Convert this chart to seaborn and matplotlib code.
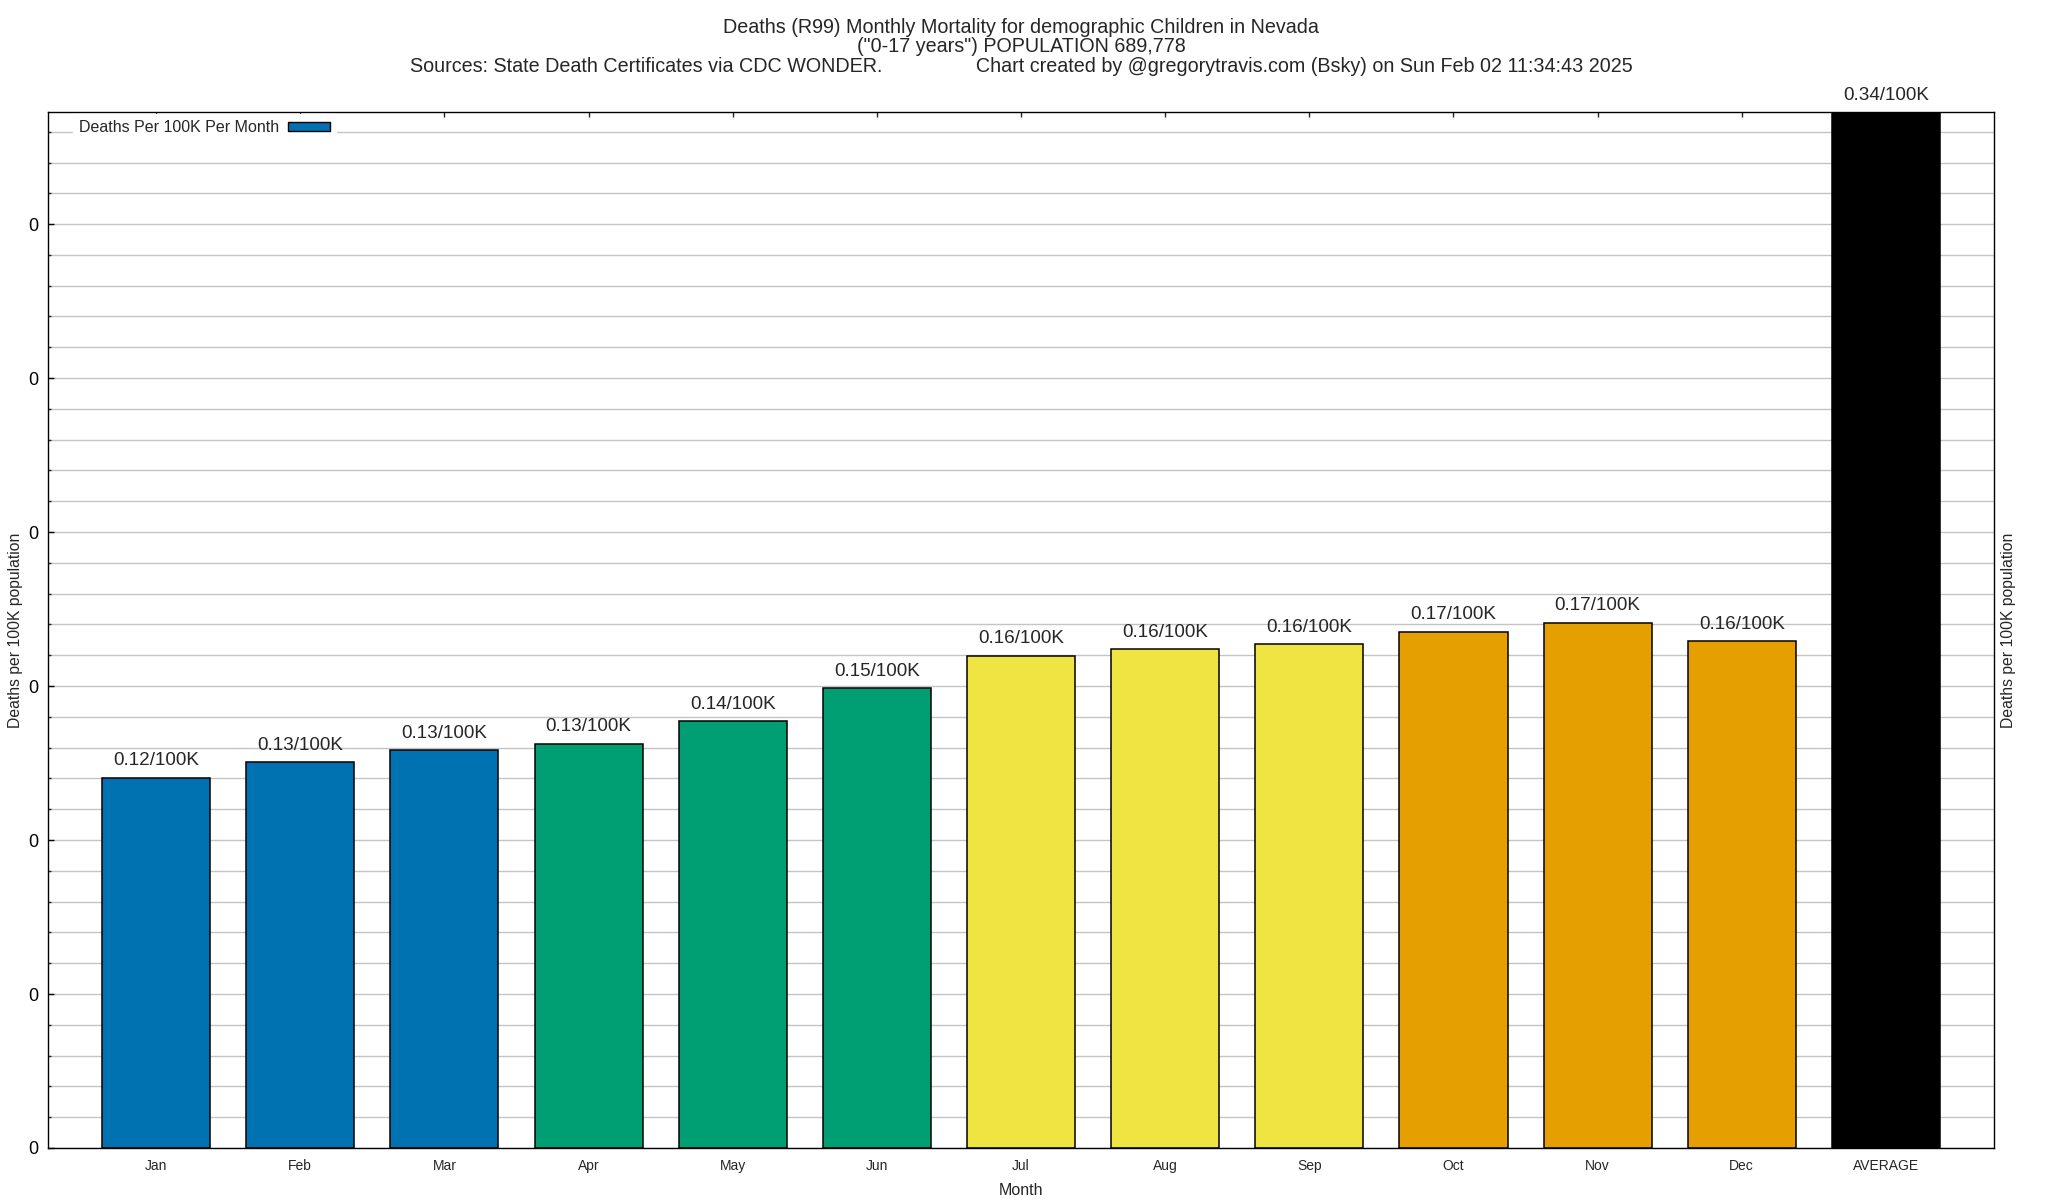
import matplotlib
matplotlib.use("Agg")
import matplotlib.pyplot as plt
import seaborn as sns
import pandas as pd
from matplotlib.patches import Patch
from matplotlib.ticker import MultipleLocator, FormatStrFormatter

# Data
months = ['Jan', 'Feb', 'Mar', 'Apr', 'May', 'Jun', 'Jul', 'Aug', 'Sep', 'Oct', 'Nov', 'Dec', 'AVERAGE']
rates = [0.1203, 0.1254, 0.1292, 0.1313, 0.1385, 0.1493, 0.1599, 0.1621, 0.1637, 0.1677, 0.1706, 0.1646, 0.3364]
bar_colors = ['#0072B2', '#0072B2', '#0072B2', '#009E73', '#009E73', '#009E73',
              '#F0E442', '#F0E442', '#F0E442', '#E69F00', '#E69F00', '#E69F00', '#000000']

title_lines = [
    'Deaths (R99) Monthly Mortality for demographic Children in Nevada',
    '("0-17 years") POPULATION 689,778',
    'Sources: State Death Certificates via CDC WONDER.' + ' ' * 17
    + 'Chart created by @gregorytravis.com (Bsky) on Sun Feb 02 11:34:43 2025',
]

df = pd.DataFrame({'month': months, 'rate': rates})
df['label'] = df['rate'].map(lambda v: f"{v:.2f}/100K")

sns.set_theme(style='white')
plt.rcParams['font.family'] = ['Liberation Sans', 'DejaVu Sans']

fig, ax = plt.subplots(figsize=(20.48, 12), dpi=100)
fig.subplots_adjust(left=48 / 2048, right=1994 / 2048, top=1 - 112 / 1200, bottom=1 - 1148 / 1200)

sns.barplot(data=df, x='month', y='rate', hue='month', order=months, hue_order=months,
            palette=bar_colors, saturation=1, width=0.75, edgecolor='black', linewidth=1.1,
            legend=False, ax=ax)

ax.set_xlim(-0.75, len(months) - 0.25)
ax.set_ylim(0, max(rates))

# value labels above each bar
for i, row in df.iterrows():
    ax.annotate(row['label'], (i, row['rate']), xytext=(0, 12), textcoords='offset points',
                ha='center', va='center', fontsize=13.6, annotation_clip=False)

# y axis: majors every 0.05, minors every 0.01, all printed as "0"
ax.yaxis.set_major_locator(MultipleLocator(0.05))
ax.yaxis.set_minor_locator(MultipleLocator(0.01))
ax.yaxis.set_major_formatter(FormatStrFormatter('%.0f'))
ax.grid(which='both', axis='y', color='#c4c4c4', linewidth=1)
ax.grid(False, axis='x')
ax.set_axisbelow(True)
ax.tick_params(axis='y', which='major', direction='in', length=4.5, width=1, labelsize=13, pad=7,
               left=True, right=True, colors='black')
ax.tick_params(axis='y', which='minor', direction='in', length=2.2, width=1, left=True, right=True)
ax.tick_params(axis='x', which='major', direction='in', length=3.6, width=1, bottom=False, top=True,
               labelbottom=True, labelsize=10, pad=8)
for s in ax.spines.values():
    s.set_visible(True)
    s.set_color('black')
    s.set_linewidth(1)

ax.set_xlabel('Month', fontsize=11.5, labelpad=7)
ax.set_ylabel('Deaths per 100K population', fontsize=11.3, labelpad=4)
ax2 = ax.twinx()
ax2.set_ylim(ax.get_ylim())
ax2.set_yticks([])
ax2.set_ylabel('Deaths per 100K population', fontsize=11.3, labelpad=5)
for s in ax2.spines.values():
    s.set_visible(False)

leg = ax.legend(handles=[Patch(facecolor='#0072B2', edgecolor='black', linewidth=1,
                               label='Deaths Per 100K Per Month')],
                loc='upper left', bbox_to_anchor=(0.012, 1.0), markerfirst=False, fontsize=11.5,
                handlelength=2.6, handleheight=0.5, handletextpad=0.55, borderaxespad=0.1,
                frameon=True, fancybox=False, framealpha=1)
leg.get_frame().set_edgecolor('white')
leg.get_frame().set_facecolor('white')

ycen = [1 - 27.5 / 1200, 1 - 47 / 1200, 1 - 66.5 / 1200]
for line, y in zip(title_lines, ycen):
    fig.text(1021 / 2048, y, line, ha='center', va='center', fontsize=14.2)

fig.savefig('out.png', dpi=100)
